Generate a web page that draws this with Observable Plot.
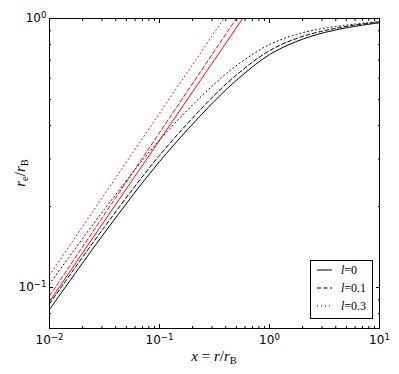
<!DOCTYPE html>
<html><head><meta charset="utf-8">
<script src="https://cdn.jsdelivr.net/npm/d3@7"></script>
<script src="https://cdn.jsdelivr.net/npm/@observablehq/plot@0.6"></script>
<style>body{margin:0;background:#fff}</style>
</head><body><div id="chart"></div>
<script>
// ---- data ----
const seriesNames = ["l=0", "l=0.1", "l=0.3"];
const curveX   = [0.01, 0.0316, 0.1, 0.316, 0.562, 1, 1.78, 3.16, 5.62, 10];
const curveL0  = [0.0828, 0.1596, 0.2938, 0.493, 0.614, 0.734, 0.823, 0.887, 0.931, 0.964];
const curveL01 = [0.0869, 0.1679, 0.3097, 0.5188, 0.6412, 0.7595, 0.8443, 0.9016, 0.9419, 0.9705];
const curveL03 = [0.1030, 0.1954, 0.3532, 0.5715, 0.6918, 0.8005, 0.8738, 0.9204, 0.9506, 0.9750];
const asympX_L0  = [0.01, 0.57];   const asympY_L0  = [0.0887, 1];
const asympX_L01 = [0.01, 0.50];   const asympY_L01 = [0.093, 1];
const asympX_L03 = [0.01, 0.385];  const asympY_L03 = [0.111, 1];
const xMajor = [0.01, 0.1, 1, 10];
const xMajorLabels = ["10|\u22122", "10|\u22121", "10|0", "10|1"];
const yMajor = [0.1, 1];
const yMajorLabels = ["10|\u22121", "10|0"];
const dashes = [null, "4,2.5", "1,3"];

const curveY = [curveL0, curveL01, curveL03];
const asymX = [asympX_L0, asympX_L01, asympX_L03];
const asymY = [asympY_L0, asympY_L01, asympY_L03];

const xMinor = [];
for (let k = -2; k <= 0; k++) for (let m = 2; m <= 9; m++) xMinor.push(+(m * 10 ** k).toPrecision(3));
const yMinor = [0.08, 0.09, 0.2, 0.3, 0.4, 0.5, 0.6, 0.7, 0.8, 0.9];

const marks = [];
seriesNames.forEach((s, i) => {
  const black = curveX.map((x, j) => ({x, y: curveY[i][j], s}));
  const red = asymX[i].map((x, j) => ({x, y: asymY[i][j], s}));
  marks.push(Plot.line(red, {x: "x", y: "y", stroke: "#ff0000", strokeWidth: 1, strokeDasharray: dashes[i]}));
  marks.push(Plot.line(black, {x: "x", y: "y", stroke: "black", strokeWidth: 1, curve: "catmull-rom", strokeDasharray: dashes[i]}));
});

const blank = () => "";
const fmtX = d => xMajorLabels[xMajor.findIndex(v => Math.abs(v - d) / d < 1e-6)];
const fmtY = d => yMajorLabels[yMajor.findIndex(v => Math.abs(v - d) / d < 1e-6)];

const plot = Plot.plot({
  width: 399, height: 374,
  marginLeft: 49, marginRight: 20, marginTop: 18, marginBottom: 46,
  style: {background: "white", fontFamily: "DejaVu Sans", fontSize: "12px", color: "black"},
  x: {type: "log", domain: [0.01, 10], axis: null},
  y: {type: "log", domain: [0.0704, 1], axis: null},
  marks: [
    ...marks,
    Plot.frame({stroke: "black", strokeWidth: 1}),
    Plot.axisX(xMajor, {anchor: "bottom", tickSize: -4, tickFormat: blank, label: null}),
    Plot.axisX(xMajor, {anchor: "top", tickSize: -4, tickFormat: blank, label: null}),
    Plot.axisY(yMajor, {anchor: "left", tickSize: -4, tickFormat: blank, label: null}),
    Plot.axisY(yMajor, {anchor: "right", tickSize: -4, tickFormat: blank, label: null}),
    Plot.axisX(xMinor, {anchor: "bottom", tickSize: -2, tickFormat: blank, label: null}),
    Plot.axisX(xMinor, {anchor: "top", tickSize: -2, tickFormat: blank, label: null}),
    Plot.axisY(yMinor, {anchor: "left", tickSize: -2, tickFormat: blank, label: null}),
    Plot.axisY(yMinor, {anchor: "right", tickSize: -2, tickFormat: blank, label: null}),
    Plot.axisX(xMajor, {anchor: "bottom", tickSize: 0, tickPadding: 7, tickFormat: fmtX, label: null, fontSize: 12}),
    Plot.axisY(yMajor, {anchor: "left", tickSize: 0, tickPadding: 3, tickFormat: fmtY, label: null, fontSize: 12})
  ]
});

document.getElementById("chart").appendChild(plot);
const svg = d3.select(plot);

svg.selectAll("text").each(function() {
  const t = d3.select(this);
  const s = this.textContent;
  if (!s.includes("|")) return;
  const [b, e] = s.split("|");
  t.text(null);
  t.append("tspan").text(b);
  t.append("tspan").attr("dy", "-0.45em").attr("font-size", "0.72em").text(e);
});

const serif = "'Liberation Serif', 'DejaVu Serif', serif";
const xl = svg.append("text").attr("x", 214).attr("y", 361).attr("text-anchor", "middle")
  .attr("font-family", serif).attr("font-size", 15).attr("fill", "black");
xl.append("tspan").attr("font-style", "italic").text("x");
xl.append("tspan").text(" = ");
xl.append("tspan").attr("font-style", "italic").text("r");
xl.append("tspan").text("/");
xl.append("tspan").attr("font-style", "italic").text("r");
xl.append("tspan").attr("font-size", 10.5).attr("dy", 3).text("B");

const yl = svg.append("text").attr("transform", "translate(25,173) rotate(-90)").attr("text-anchor", "middle")
  .attr("font-family", serif).attr("font-size", 15).attr("fill", "black");
yl.append("tspan").attr("font-style", "italic").text("r");
yl.append("tspan").attr("font-size", 10.5).attr("dy", 3).text("e");
yl.append("tspan").attr("dy", -3).text("/");
yl.append("tspan").attr("font-style", "italic").text("r");
yl.append("tspan").attr("font-size", 10.5).attr("dy", 3).text("B");

const lg = svg.append("g");
lg.append("rect").attr("x", 310.5).attr("y", 260.5).attr("width", 62).attr("height", 58)
  .attr("fill", "white").attr("stroke", "black").attr("stroke-width", 1);
seriesNames.forEach((s, i) => {
  const cy = 270 + i * 18;
  lg.append("line").attr("x1", 317).attr("x2", 332).attr("y1", cy).attr("y2", cy)
    .attr("stroke", "black").attr("stroke-width", 1).attr("stroke-dasharray", dashes[i]);
  const t = lg.append("text").attr("x", 341).attr("y", cy + 4).attr("text-anchor", "start")
    .attr("font-family", serif).attr("font-size", 12).attr("fill", "black");
  const [a, b] = s.split("=");
  t.append("tspan").attr("font-style", "italic").text(a);
  t.append("tspan").text("=" + b);
});
</script>
</body></html>
